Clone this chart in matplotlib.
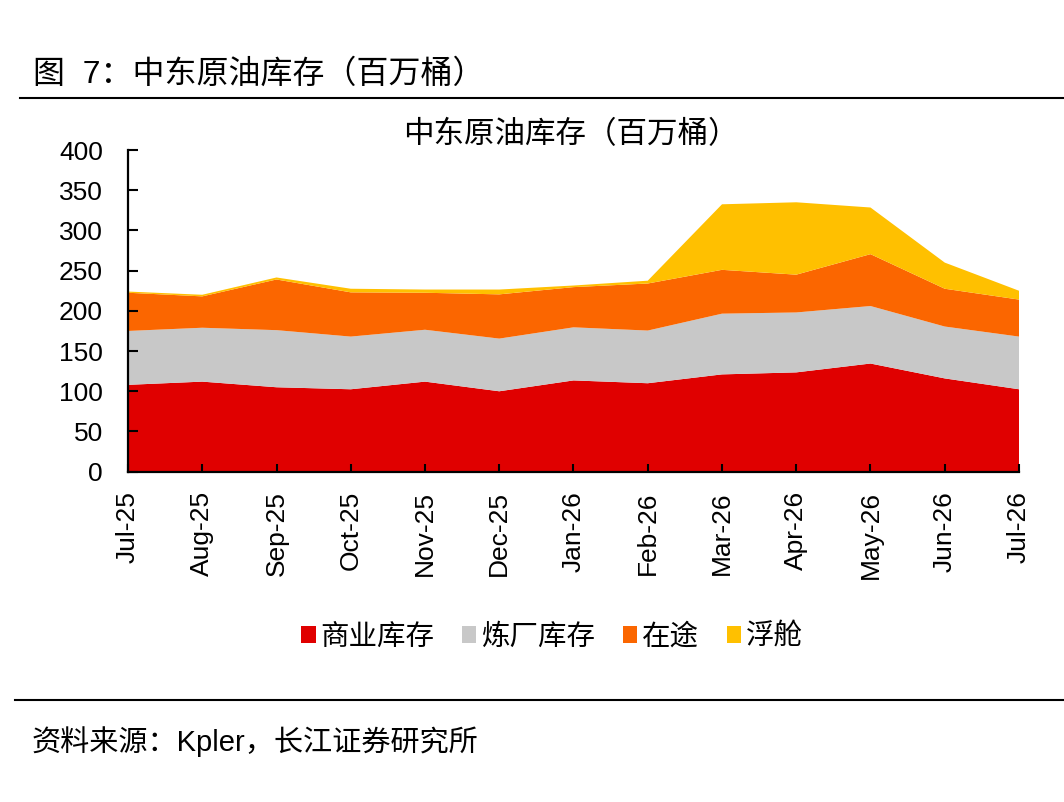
import matplotlib
matplotlib.use("Agg")
import matplotlib.pyplot as plt
from matplotlib.patches import Patch
from matplotlib.lines import Line2D

plt.rcParams['font.family'] = ['Liberation Sans', 'Noto Sans CJK SC', 'DejaVu Sans']

months = ["Jul-25", "Aug-25", "Sep-25", "Oct-25", "Nov-25", "Dec-25", "Jan-26",
          "Feb-26", "Mar-26", "Apr-26", "May-26", "Jun-26", "Jul-26"]
commercial = [108, 112, 105, 102.5, 112, 100, 113.5, 110, 121, 123.5, 134.5, 116, 102.5]
refinery = [67, 67, 71, 65.5, 64.5, 65.5, 66, 65.5, 75.5, 74.5, 71.5, 64.5, 65.5]
transit = [47.5, 39, 63, 55, 46, 55, 50, 58.5, 54.5, 47, 64.5, 47, 46]
floating = [1.5, 2, 2.5, 4.5, 4, 6, 2, 3.5, 81.5, 90, 58, 32.5, 11]

series_names = ["商业库存", "炼厂库存", "在途", "浮舱"]
colors = ["#E00000", "#C8C8C8", "#FB6600", "#FFC000"]

fig = plt.figure(figsize=(10.64, 8.02), dpi=100)
ax = fig.add_axes([128/1064, 1 - 471.7/802, (1019 - 128)/1064, (471.7 - 150)/802])

x = list(range(len(months)))
ax.stackplot(x, commercial, refinery, transit, floating, colors=colors, linewidth=0)

ax.set_xlim(0, len(months) - 1)
ax.set_ylim(0, 400)
ax.set_yticks(range(0, 401, 50))
ax.set_xticks(x)
ax.set_xticklabels(months, rotation=90, va='top', ha='center')
for s in ['top', 'right']:
    ax.spines[s].set_visible(False)
for s in ['left', 'bottom']:
    ax.spines[s].set_linewidth(1.6)
    ax.spines[s].set_color('black')
ax.tick_params(axis='y', direction='in', length=7, width=1.5, labelsize=19, pad=18)
ax.tick_params(axis='x', direction='in', length=6, width=1.5, labelsize=19, pad=14)

# Page title and rules
fig.text(33/1064, 1 - 75/802, "图  7：中东原油库存（百万桶）", fontsize=23, va='center', ha='left')
fig.add_artist(Line2D([20/1064, 1.0], [1 - 97.5/802] * 2, color='black', lw=1.5,
                      transform=fig.transFigure))
fig.text(571/1064, 1 - 135/802, "中东原油库存（百万桶）", fontsize=22, va='center', ha='center')

handles = [Patch(facecolor=c, edgecolor='none') for c in colors]
fig.legend(handles, series_names, loc='center', bbox_to_anchor=(552/1064, 1 - 637/802),
           ncol=4, frameon=False, fontsize=20.5, handlelength=0.5, handleheight=0.5,
           handletextpad=0.15, columnspacing=1.0, borderpad=0)

fig.add_artist(Line2D([15/1064, 1.0], [1 - 700/802] * 2, color='black', lw=1.5,
                      transform=fig.transFigure))
fig.text(32/1064, 1 - 742/802, "资料来源：Kpler，长江证券研究所", fontsize=21, va='center', ha='left')

fig.savefig("out.png", dpi=100, facecolor='white')
